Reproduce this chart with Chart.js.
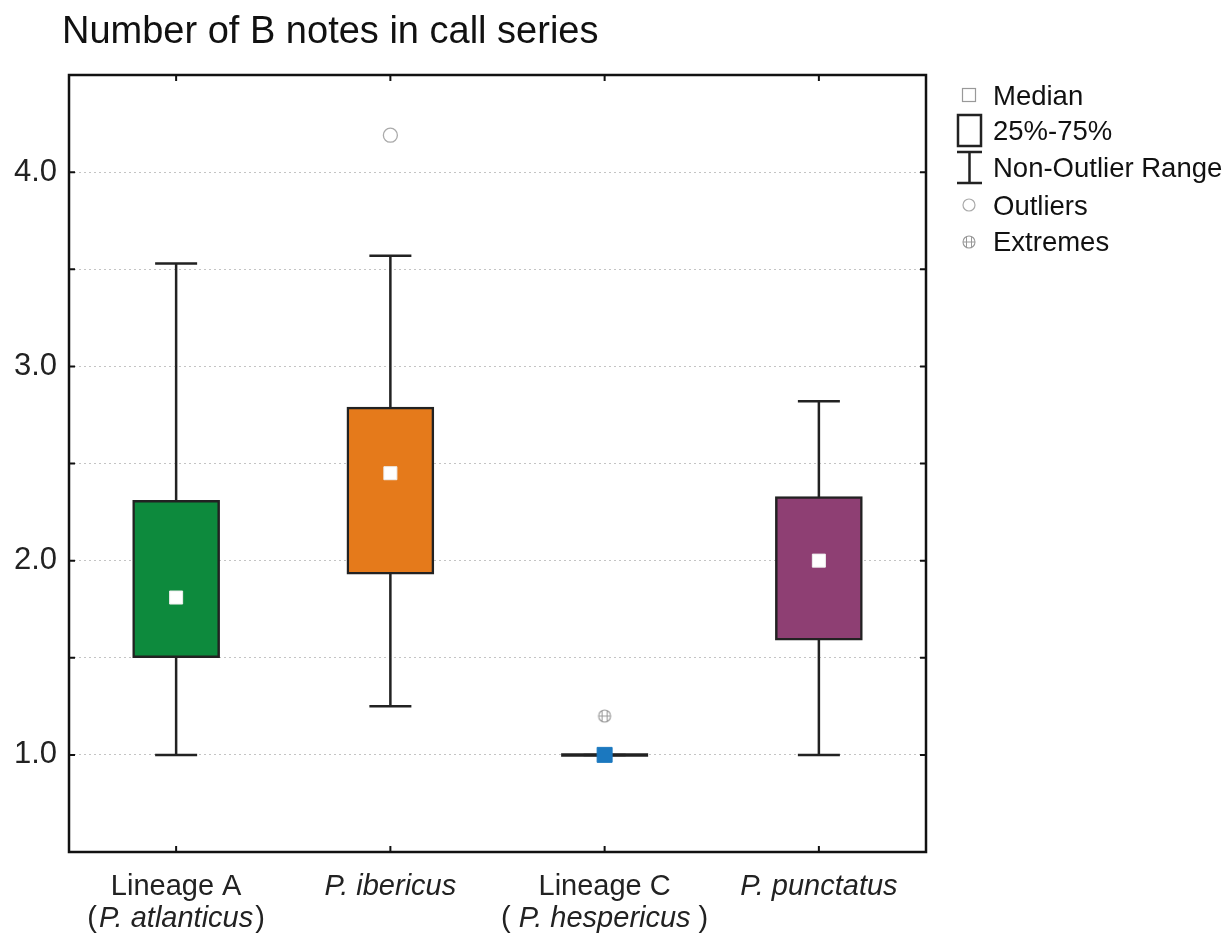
<!DOCTYPE html>
<html>
<head>
<meta charset="utf-8">
<script src="https://cdn.jsdelivr.net/npm/chart.js@4.4.1/dist/chart.umd.min.js"></script>
<style>
  html, body { margin: 0; padding: 0; background: #fff; }
  #wrap { position: relative; width: 1227px; height: 940px; font-family: "Liberation Sans", Arial, sans-serif; }
  #title { position: absolute; left: 62px; top: 9px; font-size: 38px; color: #111; white-space: nowrap; }
  #legend { position: absolute; left: 940px; top: 70px; }
  canvas { position: absolute; left: 0; top: 0; }
</style>
</head>
<body>
<div id="wrap">
  <canvas id="chart" width="1227" height="940"></canvas>
  <div id="title">Number of B notes in call series</div>
  <svg id="legend" width="287" height="200" font-family="Liberation Sans, Arial, sans-serif" font-size="27.5" fill="#111">
    <rect x="22.5" y="18.5" width="13" height="13" fill="#fff" stroke="#999" stroke-width="1.2"/>
    <text x="53" y="35">Median</text>
    <rect x="18" y="45" width="23" height="31" fill="none" stroke="#222" stroke-width="2.5"/>
    <text x="53" y="70">25%-75%</text>
    <path d="M17 82 H42 M29.5 82 V113 M17 113 H42" stroke="#222" stroke-width="2.5" fill="none"/>
    <text x="53" y="107">Non-Outlier Range</text>
    <circle cx="29" cy="135" r="6" fill="none" stroke="#aaa" stroke-width="1.2"/>
    <text x="53" y="145">Outliers</text>
    <circle cx="29" cy="172" r="6" fill="none" stroke="#999" stroke-width="1.1"/>
    <path d="M26.5 166.5 V177.5 M31.5 166.5 V177.5 M23 172 H35" stroke="#999" stroke-width="1"/>
    <text x="53" y="181">Extremes</text>
  </svg>
</div>
<script>
// categories and labels
const categories = ['Lineage A', 'P. ibericus', 'Lineage C', 'P. punctatus'];
const subLabels = ['P. atlanticus', '', 'P. hespericus', ''];
const italicMain = [false, true, false, true];

// box plot statistics
const minValues = [1.0, 1.25, 1.0, 1.0];
const q1Values = [1.5, 1.93, 1.0, 1.59];
const medianValues = [1.81, 2.45, 1.0, 2.0];
const q3Values = [2.31, 2.79, 1.0, 2.33];
const maxValues = [3.53, 3.57, 1.0, 2.82];
const outlierValues = [null, 4.19, null, null];
const extremeValues = [null, null, 1.2, null];

// y axis ticks
const yMin = 0.5;
const yMax = 4.5;
const yStep = 0.5;

const boxColors = ['#0d8a3d', '#e57a1b', '#1b78bf', '#8e3f73'];
const medianColors = ['#ffffff', '#ffffff', '#1b78bf', '#ffffff'];
const medianRadius = [9.2, 9.2, 10.6, 9.2];
const parenGap = [2, 0, 8, 0];

const FONT = '"Liberation Sans", Arial, sans-serif';
const BOX_W = 87;

// crosshatched circle used for the extremes
function extremeSymbol() {
    const c = document.createElement('canvas');
    c.width = 16; c.height = 16;
    const g = c.getContext('2d');
    g.strokeStyle = '#999';
    g.lineWidth = 1.1;
    g.beginPath(); g.arc(8, 8, 6, 0, Math.PI * 2); g.stroke();
    g.lineWidth = 1;
    g.beginPath();
    g.moveTo(5.5, 2.5); g.lineTo(5.5, 13.5);
    g.moveTo(10.5, 2.5); g.lineTo(10.5, 13.5);
    g.moveTo(2, 8); g.lineTo(14, 8);
    g.stroke();
    return c;
}

// whiskers, drawn under the boxes (a box with no height becomes a thick line)
const whiskerPlugin = {
    id: 'whiskers',
    beforeDatasetsDraw(chart) {
        const { ctx, scales: { x, y } } = chart;
        ctx.save();
        ctx.strokeStyle = '#222';
        categories.forEach((c, i) => {
            const cx = x.getPixelForValue(i);
            const top = y.getPixelForValue(maxValues[i]);
            const bot = y.getPixelForValue(minValues[i]);
            ctx.lineWidth = 2.5;
            ctx.beginPath();
            ctx.moveTo(cx, top); ctx.lineTo(cx, bot);
            ctx.moveTo(cx - 21, top); ctx.lineTo(cx + 21, top);
            ctx.moveTo(cx - 21, bot); ctx.lineTo(cx + 21, bot);
            ctx.stroke();
            if (q1Values[i] === q3Values[i]) {
                const py = y.getPixelForValue(q1Values[i]);
                ctx.lineWidth = 3.5;
                ctx.beginPath();
                ctx.moveTo(cx - BOX_W / 2, py); ctx.lineTo(cx + BOX_W / 2, py);
                ctx.stroke();
            }
        });
        ctx.restore();
    }
};

// frame, inward ticks and category labels
const framePlugin = {
    id: 'frame',
    afterDraw(chart) {
        const { ctx, chartArea: a, scales: { x, y } } = chart;
        ctx.save();
        ctx.strokeStyle = '#111';
        ctx.lineWidth = 2.5;
        ctx.strokeRect(a.left, a.top, a.right - a.left, a.bottom - a.top);
        ctx.lineWidth = 2;
        ctx.beginPath();
        y.ticks.forEach(t => {
            const py = y.getPixelForValue(t.value);
            ctx.moveTo(a.left, py); ctx.lineTo(a.left + 6, py);
            ctx.moveTo(a.right, py); ctx.lineTo(a.right - 6, py);
        });
        categories.forEach((c, i) => {
            const px = x.getPixelForValue(i);
            ctx.moveTo(px, a.top); ctx.lineTo(px, a.top + 6);
            ctx.moveTo(px, a.bottom); ctx.lineTo(px, a.bottom - 6);
        });
        ctx.stroke();

        ctx.fillStyle = '#222';
        ctx.textBaseline = 'alphabetic';
        const normal = '29px ' + FONT;
        const italic = 'italic 29px ' + FONT;
        categories.forEach((c, i) => {
            const px = x.getPixelForValue(i);
            ctx.font = italicMain[i] ? italic : normal;
            ctx.textAlign = 'center';
            ctx.fillText(c, px, a.bottom + 43);
            if (subLabels[i]) {
                const gap = parenGap[i];
                ctx.font = normal;
                const wo = ctx.measureText('(').width + gap;
                const wc = ctx.measureText(')').width + gap;
                ctx.font = italic;
                const wi = ctx.measureText(subLabels[i]).width;
                const sx = px - (wo + wi + wc) / 2;
                ctx.textAlign = 'left';
                ctx.font = normal;
                ctx.fillText('(', sx, a.bottom + 75);
                ctx.font = italic;
                ctx.fillText(subLabels[i], sx + wo, a.bottom + 75);
                ctx.font = normal;
                ctx.fillText(')', sx + wo + wi + gap, a.bottom + 75);
            }
        });
        ctx.restore();
    }
};

const ctx = document.getElementById('chart').getContext('2d');
new Chart(ctx, {
    type: 'bar',
    data: {
        labels: categories,
        datasets: [
            {
                type: 'line',
                label: 'Median',
                data: medianValues,
                showLine: false,
                pointStyle: 'rect',
                pointRadius: medianRadius,
                pointBackgroundColor: medianColors,
                pointBorderColor: medianColors.map(c => c === '#ffffff' ? '#eeeeee' : c),
                pointBorderWidth: 1,
                order: 0
            },
            {
                type: 'line',
                label: 'Outliers',
                data: outlierValues,
                showLine: false,
                pointStyle: 'circle',
                pointRadius: 7,
                pointBackgroundColor: 'rgba(255,255,255,0)',
                pointBorderColor: '#aaa',
                pointBorderWidth: 1.3,
                order: 0
            },
            {
                type: 'line',
                label: 'Extremes',
                data: extremeValues,
                showLine: false,
                pointStyle: extremeSymbol(),
                order: 0
            },
            {
                label: '25%-75%',
                data: q1Values.map((q, i) => [q, q3Values[i]]),
                backgroundColor: boxColors,
                borderColor: '#222',
                borderWidth: 2.5,
                borderSkipped: false,
                barThickness: BOX_W,
                order: 1
            }
        ]
    },
    options: {
        responsive: false,
        animation: false,
        layout: { padding: { top: 75, right: 301, left: 0, bottom: 0 } },
        plugins: {
            legend: { display: false },
            title: { display: false },
            tooltip: { enabled: false }
        },
        scales: {
            x: {
                grid: { display: false },
                border: { display: false },
                ticks: { display: false },
                afterFit(scale) { scale.height = 88; }
            },
            y: {
                min: yMin,
                max: yMax,
                grid: { color: '#c4c4c4', lineWidth: 1, drawTicks: false },
                border: { display: false, dash: [2, 3] },
                ticks: {
                    stepSize: yStep,
                    autoSkip: false,
                    padding: 12,
                    color: '#222',
                    font: { family: FONT, size: 31 },
                    callback: v => Number.isInteger(v) ? v.toFixed(1) : ''
                },
                afterFit(scale) { scale.width = 69; }
            }
        }
    },
    plugins: [whiskerPlugin, framePlugin]
});
</script>
</body>
</html>
